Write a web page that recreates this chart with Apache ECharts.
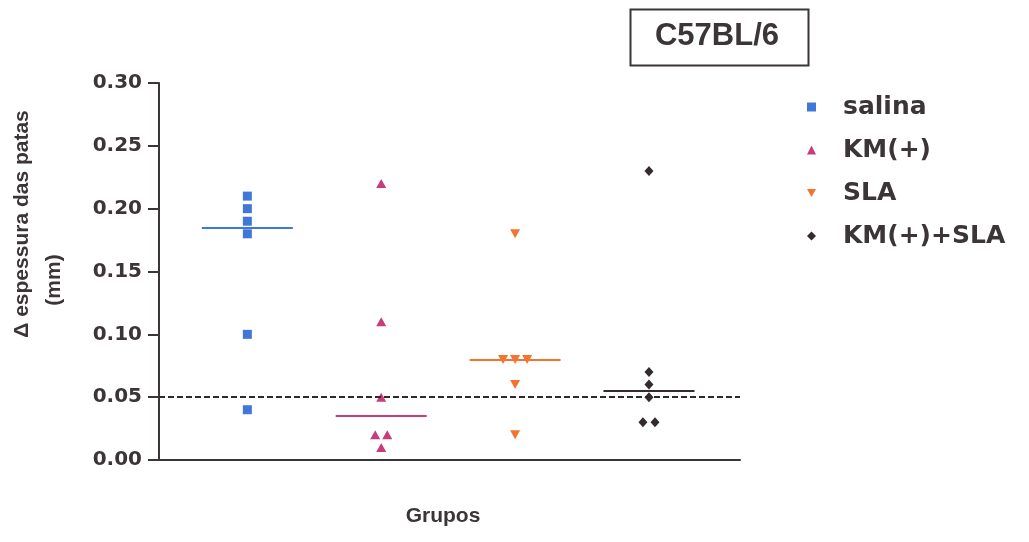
<!DOCTYPE html>
<html>
<head>
<meta charset="utf-8">
<script src="https://cdn.jsdelivr.net/npm/echarts@6/dist/echarts.min.js"></script>
<style>html,body{margin:0;padding:0;background:#fff}#c{width:1029px;height:542px}</style>
</head>
<body>
<div id="c"></div>
<script>
// ---- data ----
const categories = ['salina', 'KM(+)', 'SLA', 'KM(+)+SLA'];
const salina = [0.21, 0.20, 0.19, 0.18, 0.10, 0.04];
const km = [0.22, 0.11, 0.05, 0.02, 0.02, 0.01];
const sla = [0.18, 0.08, 0.08, 0.08, 0.06, 0.02];
const kmSla = [0.23, 0.07, 0.06, 0.05, 0.03, 0.03];
const baseline = 0.051;
const titleText = 'C57BL/6';
const yTitle1 = '\u0394 espessura das patas';
const yTitle2 = '(mm)';
const xTitle = 'Grupos';

// ---- styles ----
const groups = [salina, km, sla, kmSla];
const colors = ['#3f78d6', '#c83c7c', '#f27430', '#332b2e'];
const symbols = ['rect', 'triangle', 'triangle', 'diamond'];
const legendIcons = ['rect', 'triangle', 'path://M0,0 L10,0 L5,9 Z', 'diamond'];
const symbolRot = [0, 0, 180, 0];
const symbolSizes = [9, [10, 9], [10, 9], [9, 10]];
const ink = '#3b3538';

function median(a) {
  const s = a.slice().sort((p, q) => p - q);
  const n = s.length;
  return n % 2 ? s[(n - 1) / 2] : (s[n / 2 - 1] + s[n / 2]) / 2;
}
function jittered(vals, center) {
  const counts = {}, seen = {};
  vals.forEach(v => { counts[v] = (counts[v] || 0) + 1; });
  return vals.map(v => {
    const k = seen[v] || 0; seen[v] = k + 1;
    const n = counts[v];
    return [center + (k - (n - 1) / 2) * 0.09, v];
  });
}

const series = groups.map((vals, i) => {
  const c = i + 1, m = median(vals);
  const s = {
    name: categories[i],
    type: 'scatter',
    data: jittered(vals, c),
    symbol: symbols[i],
    symbolRotate: symbolRot[i],
    symbolSize: symbolSizes[i],
    itemStyle: { color: colors[i], opacity: 1 },
    z: 3,
    markLine: {
      silent: true, symbol: 'none', animation: false,
      label: { show: false },
      lineStyle: { color: colors[i], type: 'solid', width: 2, opacity: 1 },
      data: [[{ coord: [c - 0.34, m] }, { coord: [c + 0.34, m] }]]
    }
  };
  if (i === 0) {
    s.markLine.data.push({ yAxis: baseline, lineStyle: { color: '#2e2a2c', type: [6, 3], width: 2 } });
  }
  return s;
});

const chart = echarts.init(document.getElementById('c'));
chart.setOption({
  animation: false,
  backgroundColor: '#fff',
  grid: { left: 159, right: 289, top: 83, bottom: 82, containLabel: false },
  xAxis: {
    type: 'value', min: 0.34, max: 4.68,
    axisLine: { show: true, lineStyle: { color: ink, width: 2 } },
    axisTick: { show: false }, axisLabel: { show: false }, splitLine: { show: false }
  },
  yAxis: {
    type: 'value', min: 0, max: 0.3, interval: 0.05,
    axisLine: { show: true, lineStyle: { color: ink, width: 2 } },
    axisTick: { show: true, inside: false, length: 11, lineStyle: { color: ink, width: 2 } },
    axisLabel: {
      margin: 17, color: ink, fontFamily: 'DejaVu Sans', fontWeight: 'bold', fontSize: 20,
      formatter: v => v.toFixed(2)
    },
    splitLine: { show: false }
  },
  legend: {
    orient: 'vertical', left: 802, top: 87,
    itemWidth: 9, itemHeight: 9, itemGap: 13,
    data: categories.map((n, i) => ({ name: n, icon: legendIcons[i] })),
    textStyle: {
      color: ink, fontFamily: 'DejaVu Sans', fontWeight: 'bold', fontSize: 25,
      lineHeight: 30, padding: [0, 0, 0, 22]
    }
  },
  graphic: [
    { type: 'rect', left: 628, top: 7, shape: { width: 178, height: 56 },
      style: { fill: 'none', stroke: ink, lineWidth: 2 } },
    { type: 'text', x: 717, y: 36,
      style: { text: titleText, fill: ink, font: 'bold 31px "Liberation Sans", Arial', textAlign: 'center', textVerticalAlign: 'middle' } },
    { type: 'text', x: 22, y: 224, rotation: Math.PI / 2,
      style: { text: yTitle1, fill: ink, font: 'bold 21px "Liberation Sans", Arial', textAlign: 'center', textVerticalAlign: 'middle' } },
    { type: 'text', x: 54, y: 280, rotation: Math.PI / 2,
      style: { text: yTitle2, fill: ink, font: 'bold 21px "Liberation Sans", Arial', textAlign: 'center', textVerticalAlign: 'middle' } },
    { type: 'text', x: 443, y: 516,
      style: { text: xTitle, fill: ink, font: 'bold 21px "Liberation Sans", Arial', textAlign: 'center', textVerticalAlign: 'middle' } }
  ],
  series: series
});
</script>
</body>
</html>
